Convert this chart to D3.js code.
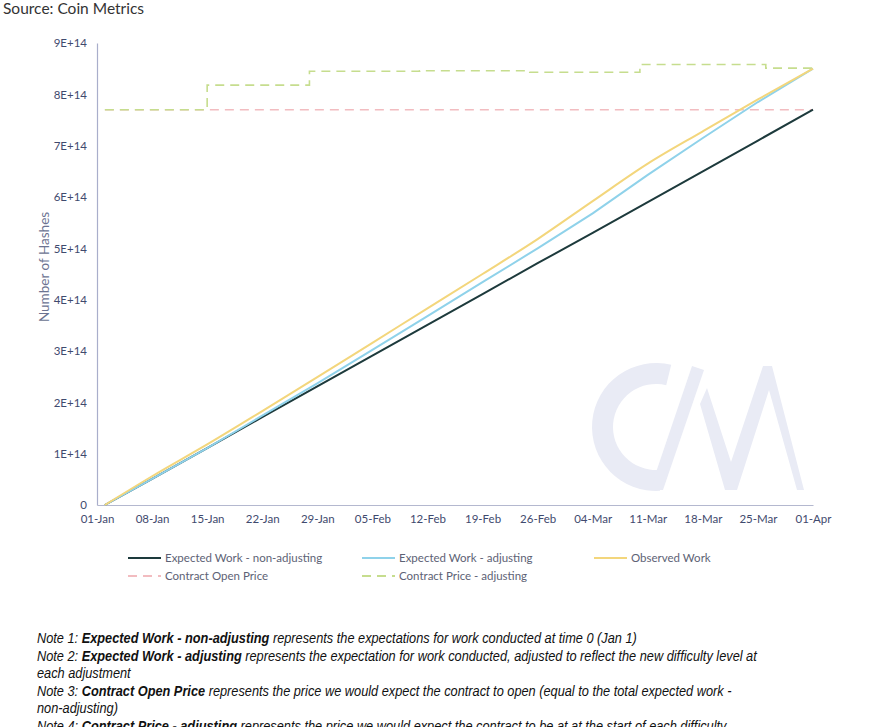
<!DOCTYPE html>
<html><head><meta charset="utf-8">
<script src="https://cdn.jsdelivr.net/npm/d3@7"></script>
<style>
html,body{margin:0;padding:0;background:#fff;}
svg{display:block;}
</style></head>
<body>
<svg id="chart" width="874" height="727"></svg>
<script>
// ---- data (hashes, ×1e14) ----
const seriesDates = ["2020-01-02","2020-01-08","2020-01-15","2020-01-22","2020-01-29","2020-02-05","2020-02-12","2020-02-19","2020-02-26","2020-03-04","2020-03-11","2020-03-18","2020-03-25","2020-04-01"];
const expectedNonAdj = [0,0.51,1.11,1.71,2.31,2.91,3.51,4.11,4.71,5.30,5.90,6.50,7.10,7.70];
const expectedAdj    = [0,0.51,1.11,1.74,2.37,3.02,3.68,4.34,5.00,5.68,6.43,7.15,7.85,8.50];
const observedWork   = [0,0.56,1.18,1.83,2.49,3.16,3.83,4.50,5.18,5.92,6.65,7.28,7.90,8.50];
const openPriceDates = ["2020-01-02","2020-04-01"];
const openPrice      = [7.70,7.70];
const adjPriceDates  = ["2020-01-02","2020-01-15","2020-01-28","2020-02-11","2020-02-25","2020-03-10","2020-03-26","2020-04-01"];
const adjPrice       = [7.70,8.18,8.45,8.46,8.43,8.58,8.51,8.51];
const yTicks = [0,1,2,3,4,5,6,7,8,9];
const yTickLabels = ["0","1E+14","2E+14","3E+14","4E+14","5E+14","6E+14","7E+14","8E+14","9E+14"];
const xTickDates = ["2020-01-01","2020-01-08","2020-01-15","2020-01-22","2020-01-29","2020-02-05","2020-02-12","2020-02-19","2020-02-26","2020-03-04","2020-03-11","2020-03-18","2020-03-25","2020-04-01"];
const legendNames = ["Expected Work - non-adjusting","Expected Work - adjusting","Observed Work","Contract Open Price","Contract Price - adjusting"];
const SCALE = 1e14;

const parse = d3.utcParse("%Y-%m-%d");
const svg = d3.select("#chart");

const x = d3.scaleUtc().domain([parse("2020-01-01"), parse("2020-04-01")]).range([97, 813]);
const y = d3.scaleLinear().domain([0, 9e14]).range([505, 43]);

// title
svg.append("text").attr("x",3).attr("y",14)
  .style("font-family","Lato, 'Open Sans', sans-serif").style("font-size","15.5px").attr("fill","#333")
  .text("Source: Coin Metrics");

// watermark
const wm = svg.append("g").attr("fill","#e9ebf5");
wm.append("path").attr("transform","translate(656,427)")
  .attr("d", d3.arc().innerRadius(43).outerRadius(64).startAngle(Math.PI*0.98).endAngle(Math.PI*2+0.24)());
wm.append("path").attr("d","M650,490 L663,490 L704,370 L692,366 Z");
wm.append("path").attr("d","M700,404 L725,490 L737,490 L769,390 L797,490 L804,490 L772,366 L763,366 L731,462 L707,388 Z");

// axes
const yAxis = d3.axisLeft(y).tickValues(yTicks.map(v=>v*SCALE)).tickFormat((d,i)=>yTickLabels[i]).tickSize(0).tickPadding(10);
const gy = svg.append("g").attr("transform","translate(97,0)").call(yAxis);
gy.select(".domain").attr("stroke","#a9aecb").attr("stroke-width",1.2);
gy.selectAll("text").style("font-family","Lato, sans-serif").style("font-size","11.5px").attr("fill","#3f4a6e");

const xAxis = d3.axisBottom(x).tickValues(xTickDates.map(parse)).tickFormat(d3.utcFormat("%d-%b")).tickSize(0).tickPadding(10);
const gx = svg.append("g").attr("transform","translate(0,505)").call(xAxis);
gx.select(".domain").attr("stroke","#b4b8cf").attr("stroke-width",1.2);
gx.selectAll("text").style("font-family","Lato, sans-serif").style("font-size","11.5px").attr("fill","#3f4a6e");

// axis title
svg.append("text").attr("transform","translate(49,267) rotate(-90)").attr("text-anchor","middle")
  .style("font-family","Lato, sans-serif").style("font-size","13.5px").attr("fill","#6b7391")
  .text("Number of Hashes");

// lines
const mk = (dates, vals) => dates.map((d,i)=>({d:parse(d), v:vals[i]*SCALE}));
const line = d3.line().x(p=>x(p.d)).y(p=>y(p.v));
const step = d3.line().x(p=>x(p.d)).y(p=>y(p.v)).curve(d3.curveStepAfter);

svg.append("path").datum(mk(openPriceDates, openPrice)).attr("d", line)
  .attr("fill","none").attr("stroke","#f2bcc0").attr("stroke-width",1.6).attr("stroke-dasharray","9,6");
svg.append("path").datum(mk(adjPriceDates, adjPrice)).attr("d", step)
  .attr("fill","none").attr("stroke","#c6dd8e").attr("stroke-width",1.6).attr("stroke-dasharray","9,6");
svg.append("path").datum(mk(seriesDates, expectedNonAdj)).attr("d", line)
  .attr("fill","none").attr("stroke","#1d3a3c").attr("stroke-width",2);
svg.append("path").datum(mk(seriesDates, expectedAdj)).attr("d", line)
  .attr("fill","none").attr("stroke","#8fd2ea").attr("stroke-width",2);
svg.append("path").datum(mk(seriesDates, observedWork)).attr("d", d3.line().x(p=>x(p.d)).y(p=>y(p.v)).curve(d3.curveMonotoneX))
  .attr("fill","none").attr("stroke","#f3d67c").attr("stroke-width",2);

// legend
const legendItems = [
  {name:legendNames[0], x:128, y:558, color:"#1d3a3c", dash:null},
  {name:legendNames[1], x:362, y:558, color:"#8fd2ea", dash:null},
  {name:legendNames[2], x:594, y:558, color:"#f3d67c", dash:null},
  {name:legendNames[3], x:128, y:576, color:"#f2bcc0", dash:"9,6"},
  {name:legendNames[4], x:362, y:576, color:"#c6dd8e", dash:"9,6"}
];
const lg = svg.append("g").selectAll("g").data(legendItems).join("g").attr("transform",d=>`translate(${d.x},${d.y})`);
lg.append("line").attr("x1",0).attr("x2",33).attr("y1",0).attr("y2",0)
  .attr("stroke",d=>d.color).attr("stroke-width",2).attr("stroke-dasharray",d=>d.dash);
lg.append("text").attr("x",37).attr("y",4)
  .style("font-family","Lato, sans-serif").style("font-size","11.5px").attr("fill","#5d6275").text(d=>d.name);

// notes
const notes = [
  [["Note 1: ",false],["Expected Work - non-adjusting",true],[" represents the expectations for work conducted at time 0 (Jan 1)",false]],
  [["Note 2: ",false],["Expected Work - adjusting",true],[" represents the expectation for work conducted, adjusted to reflect the new difficulty level at",false]],
  [["each adjustment",false]],
  [["Note 3: ",false],["Contract Open Price",true],[" represents the price we would expect the contract to open (equal to the total expected work -",false]],
  [["non-adjusting)",false]],
  [["Note 4: ",false],["Contract Price - adjusting",true],[" represents the price we would expect the contract to be at at the start of each difficulty",false]]
];
const noteY = [643,661,678,696,713,731];
const ng = svg.append("g");
const texts = notes.map((parts,i)=>{
  const t = ng.append("text").attr("x",0).attr("y",noteY[i])
    .style("font-family","'Liberation Sans', Arial, sans-serif").style("font-size","14.5px").style("font-style","italic").attr("fill","#111");
  parts.forEach(p=>t.append("tspan").style("font-weight",p[1]?"bold":"normal").text(p[0]));
  return t;
});
const w1 = texts[0].node().getComputedTextLength();
const sx = 600 / w1;
ng.attr("transform",`translate(37,0) scale(${sx},1)`);
</script>
</body></html>
